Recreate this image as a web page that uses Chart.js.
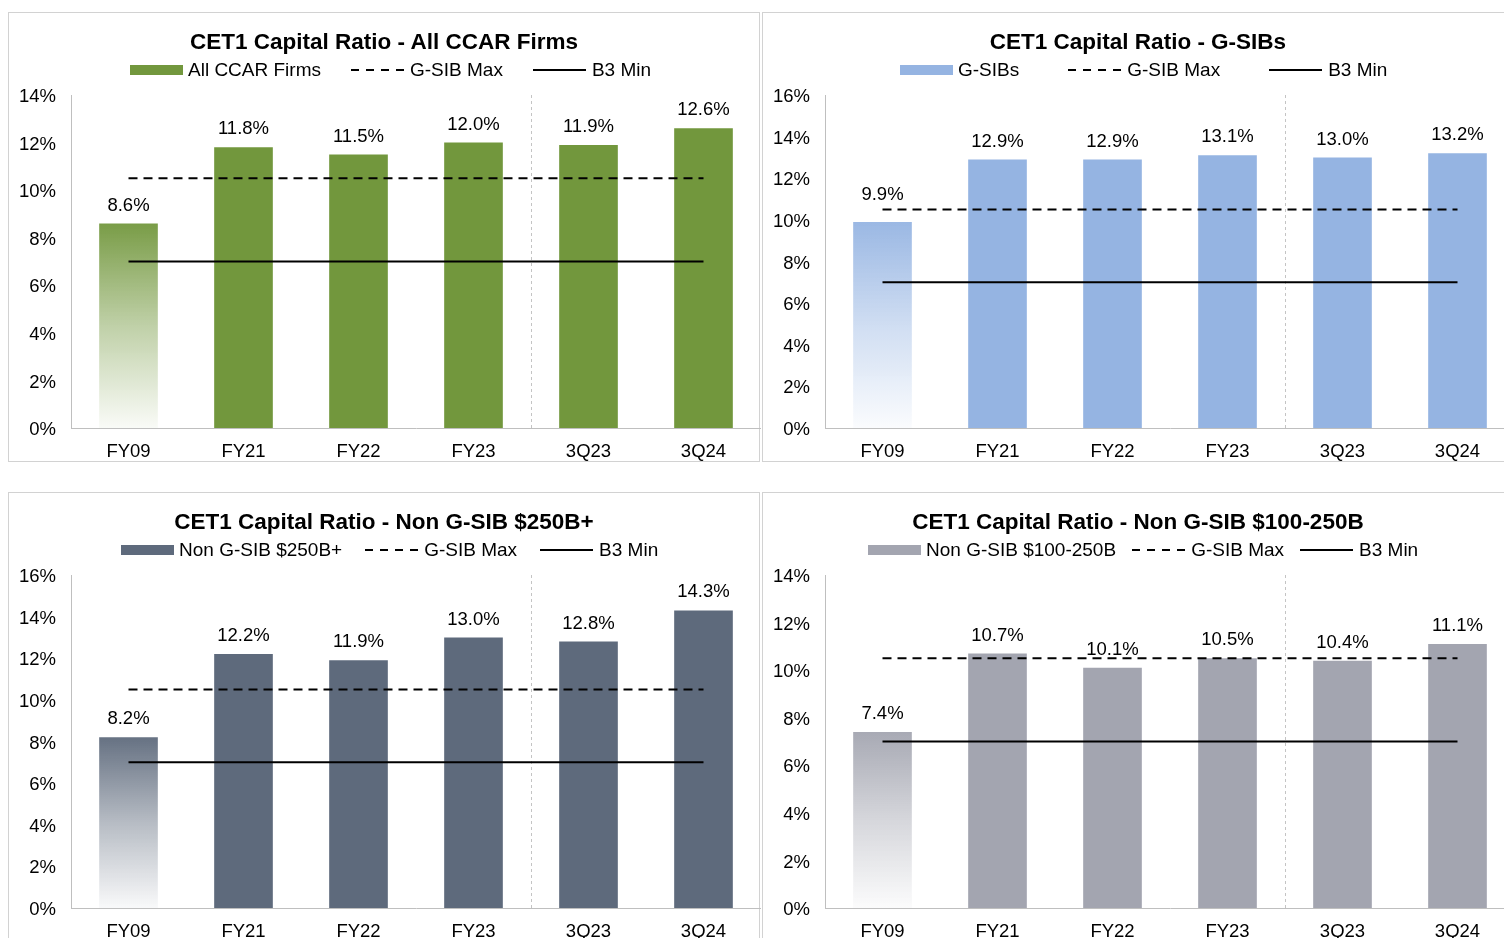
<!DOCTYPE html>
<html>
<head>
<meta charset="utf-8">
<title>CET1 Capital Ratio</title>
<script src="https://cdn.jsdelivr.net/npm/chart.js@4.4.1/dist/chart.umd.min.js"></script>
<style>
  body { margin: 0; width: 1504px; height: 938px; overflow: hidden; background: #fff;
         font-family: "Liberation Sans", Arial, sans-serif; color: #000; }
  .panel { position: absolute; width: 750px; height: 448px; border: 1px solid #d2d2d2; }
  .panel canvas { position: absolute; left: 0; top: 0; }
  .title { position: absolute; left: 0; right: 0; top: 16px; text-align: center;
           font-weight: bold; font-size: 22.5px; line-height: 26px; white-space: nowrap; z-index: 2; }
  .legend { position: absolute; top: 46px; height: 22px; display: flex; align-items: center;
            font-size: 19px; line-height: 22px; white-space: nowrap; z-index: 2; }
  .legend .box { width: 53px; height: 10px; margin-right: 5px; }
  .legend .dash { width: 53px; height: 2px; margin-right: 6px;
                  background: repeating-linear-gradient(90deg, #000 0 8px, transparent 8px 15px); }
  .legend .solid { width: 53px; height: 2px; margin-right: 6px; background: #000; }
</style>
</head>
<body>

<div class="panel" id="p1" style="left:8px;top:12px;"></div>
<div class="panel" id="p2" style="left:762px;top:12px;"></div>
<div class="panel" id="p3" style="left:8px;top:492px;"></div>
<div class="panel" id="p4" style="left:762px;top:492px;"></div>

<script>
// Data
const categories = ['FY09', 'FY21', 'FY22', 'FY23', '3Q23', '3Q24'];
const allCcarFirms = [8.6, 11.8, 11.5, 12.0, 11.9, 12.6];
const gsibs = [9.9, 12.9, 12.9, 13.1, 13.0, 13.2];
const nonGsib250 = [8.2, 12.2, 11.9, 13.0, 12.8, 14.3];
const nonGsib100 = [7.4, 10.7, 10.1, 10.5, 10.4, 11.1];
const gsibMax = [10.5, 10.5, 10.5, 10.5, 10.5, 10.5];
const b3Min = [7.0, 7.0, 7.0, 7.0, 7.0, 7.0];

const panels = [
    { id: 'p1', title: 'CET1 Capital Ratio - All CCAR Firms', label: 'All CCAR Firms',
      values: allCcarFirms, color: '#72973d', yMax: 14, legendLeft: 121, legendGap: 30, firstLift: 0 },
    { id: 'p2', title: 'CET1 Capital Ratio - G-SIBs', label: 'G-SIBs',
      values: gsibs, color: '#95b4e2', yMax: 16, legendLeft: 137, legendGap: 49, firstLift: 9 },
    { id: 'p3', title: 'CET1 Capital Ratio - Non G-SIB $250B+', label: 'Non G-SIB $250B+',
      values: nonGsib250, color: '#5e6a7c', yMax: 16, legendLeft: 112, legendGap: 23, firstLift: 0 },
    { id: 'p4', title: 'CET1 Capital Ratio - Non G-SIB $100-250B', label: 'Non G-SIB $100-250B',
      values: nonGsib100, color: '#a3a5b0', yMax: 14, legendLeft: 105, legendGap: 16, firstLift: 0 },
];

const FONT = '"Liberation Sans", Arial, sans-serif';

function rgba(hex, a) {
    const n = parseInt(hex.slice(1), 16);
    return `rgba(${n >> 16}, ${(n >> 8) & 255}, ${n & 255}, ${a})`;
}

// FY09 bar fades out towards the axis
function barFill(color) {
    return (c) => {
        if (c.dataIndex !== 0) return color;
        const chart = c.chart;
        if (!chart.chartArea) return color;
        const y = chart.scales.y;
        const top = y.getPixelForValue(c.raw);
        const bottom = y.getPixelForValue(0);
        const g = chart.ctx.createLinearGradient(0, top, 0, bottom);
        g.addColorStop(0, rgba(color, 0.95));
        g.addColorStop(0.5, rgba(color, 0.45));
        g.addColorStop(1, rgba(color, 0.04));
        return g;
    };
}

// Value labels above bars
const barLabels = {
    id: 'barLabels',
    afterDatasetsDraw(chart, args, opts) {
        const ctx = chart.ctx;
        const meta = chart.getDatasetMeta(0);
        const values = chart.data.datasets[0].data;
        ctx.save();
        ctx.font = `18.5px ${FONT}`;
        ctx.fillStyle = '#000';
        ctx.textAlign = 'center';
        ctx.textBaseline = 'middle';
        meta.data.forEach((bar, i) => {
            const lift = i === 0 ? opts.firstLift : 0;
            ctx.fillText(values[i].toFixed(1) + '%', bar.x, bar.y - 18 - lift);
        });
        ctx.restore();
    }
};

panels.forEach(p => {
    const el = document.getElementById(p.id);

    const title = document.createElement('div');
    title.className = 'title';
    title.textContent = p.title;
    el.appendChild(title);

    const legend = document.createElement('div');
    legend.className = 'legend';
    legend.style.left = p.legendLeft + 'px';
    legend.innerHTML =
        `<span class="box" style="background:${p.color}"></span><span style="margin-right:${p.legendGap}px">${p.label}</span>` +
        `<span class="dash"></span><span style="margin-right:${p.legendGap}px">G-SIB Max</span>` +
        `<span class="solid"></span><span>B3 Min</span>`;
    el.appendChild(legend);

    const canvas = document.createElement('canvas');
    canvas.width = 752;
    canvas.height = 448;
    el.appendChild(canvas);

    new Chart(canvas.getContext('2d'), {
        type: 'bar',
        data: {
            labels: categories,
            datasets: [
                {
                    label: p.label,
                    data: p.values,
                    backgroundColor: barFill(p.color),
                    borderWidth: 0,
                    barPercentage: 0.51,
                    categoryPercentage: 1,
                    order: 3
                },
                {
                    type: 'line',
                    label: 'G-SIB Max',
                    data: gsibMax,
                    borderColor: '#000',
                    borderWidth: 2,
                    borderDash: [9, 6],
                    pointRadius: 0,
                    fill: false,
                    order: 1
                },
                {
                    type: 'line',
                    label: 'B3 Min',
                    data: b3Min,
                    borderColor: '#000',
                    borderWidth: 2,
                    pointRadius: 0,
                    fill: false,
                    order: 2
                }
            ]
        },
        options: {
            responsive: false,
            animation: false,
            events: [],
            layout: { padding: { top: 82, left: 0, right: 0, bottom: 0 } },
            scales: {
                x: {
                    afterFit: (s) => { s.height = 33; },
                    grid: {
                        display: true,
                        drawTicks: false,
                        color: (c) => c.index === 4 ? '#c4c4c4' : 'rgba(0,0,0,0)'
                    },
                    border: { display: true, color: '#bfbfbf', dash: [3, 3] },
                    ticks: { padding: 13, color: '#000', font: { family: FONT, size: 18.5 } }
                },
                y: {
                    min: 0,
                    max: p.yMax,
                    afterFit: (s) => { s.width = 62; },
                    grid: { display: false, drawTicks: false },
                    border: { display: true, color: '#bfbfbf' },
                    ticks: {
                        stepSize: 2,
                        padding: 15,
                        labelOffset: 2,
                        color: '#000',
                        font: { family: FONT, size: 18.5 },
                        callback: (v) => v + '%'
                    }
                }
            },
            plugins: {
                legend: { display: false },
                title: { display: false },
                tooltip: { enabled: false },
                barLabels: { firstLift: p.firstLift }
            }
        },
        plugins: [barLabels]
    });
});
</script>
</body>
</html>
